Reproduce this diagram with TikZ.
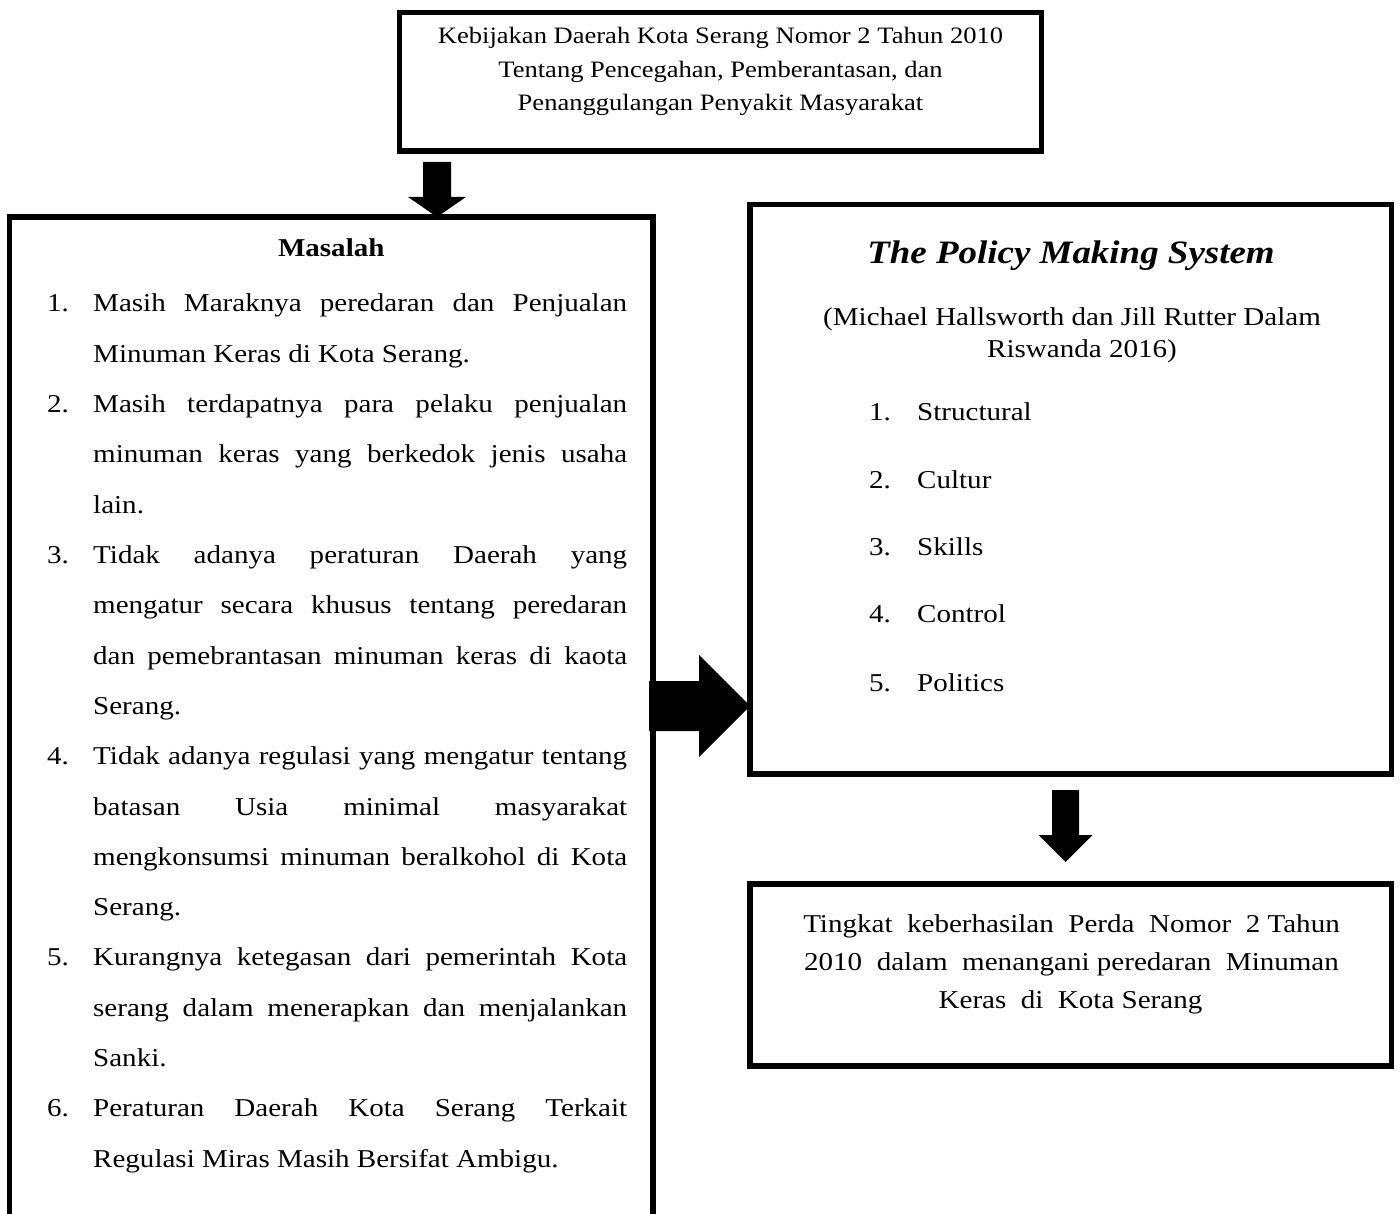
\documentclass[tikz,border=0pt]{standalone}
\usepackage{fontspec}
\setmainfont{Liberation Serif}[FakeStretch=1.13]
\usetikzlibrary{calc}
\tolerance=10000
\hyphenpenalty=10000
\hbadness=10000
\begin{document}
\begin{tikzpicture}[x=1pt,y=-1pt,
  box/.style={draw=black, line width=5.5pt, inner sep=0pt, outer sep=0pt},
  toptext/.style={inner sep=0pt, anchor=base, font=\fontsize{23.5}{33.5}\selectfont},
  body/.style={inner sep=0pt, font=\fontsize{25.7}{50.3}\selectfont},
  num/.style={body, anchor=base west},
  item/.style={body, anchor=base west, text width=534pt, align=justify},
  ctext/.style={body, anchor=base},
  rnum/.style={body, anchor=base west},
  arrowfill/.style={fill=black}]
\clip (0,0) rectangle (1400,1214);

% boxes
\node[box, minimum width=642pt, minimum height=138.5pt] (top) at (720.5,81.75) {};
\node[box, minimum width=643.5pt, minimum height=1030pt, anchor=north] (left) at (331.25,217) {};
\node[box, minimum width=641.5pt, minimum height=569.5pt] (right) at (1070.75,489.25) {};
\node[box, minimum width=641.5pt, minimum height=182pt] (bottom) at (1070.75,975) {};

% top box text
\node[toptext] (t1) at (720.5,44) {Kebijakan Daerah Kota Serang Nomor 2 Tahun 2010};
\node[toptext] (t2) at (720.5,77.5) {Tentang Pencegahan, Pemberantasan, dan};
\node[toptext] (t3) at (720.5,111) {Penanggulangan Penyakit Masyarakat};

% left box text
\node[ctext, font=\fontsize{25.7}{50.3}\selectfont\bfseries] (masalah) at (331.25,257) {Masalah};
\node[num] (n1) at (47,312) {1.};
\node[item] (m1) at (93,312) {Masih Maraknya peredaran dan Penjualan\linebreak Minuman Keras di Kota Serang.};
\node[num] (n2) at (47,412.6) {2.};
\node[item] (m2) at (93,412.6) {Masih terdapatnya para pelaku penjualan\linebreak minuman keras yang berkedok jenis usaha\linebreak lain.};
\node[num] (n3) at (47,563.5) {3.};
\node[item] (m3) at (93,563.5) {Tidak adanya peraturan Daerah yang\linebreak mengatur secara khusus tentang peredaran\linebreak dan pemebrantasan minuman keras di kaota\linebreak Serang.};
\node[num] (n4) at (47,764.7) {4.};
\node[item] (m4) at (93,764.7) {Tidak adanya regulasi yang mengatur tentang\linebreak batasan Usia minimal masyarakat\linebreak mengkonsumsi minuman beralkohol di Kota\linebreak Serang.};
\node[num] (n5) at (47,965.9) {5.};
\node[item] (m5) at (93,965.9) {Kurangnya ketegasan dari pemerintah Kota\linebreak serang dalam menerapkan dan menjalankan\linebreak Sanki.};
\node[num] (n6) at (47,1116.8) {6.};
\node[item] (m6) at (93,1116.8) {Peraturan Daerah Kota Serang Terkait\linebreak Regulasi Miras Masih Bersifat Ambigu.};

% right box text
\node[ctext, font=\fontsize{32.7}{40}\selectfont\bfseries\itshape] (title) at (1071,263.5) {The Policy Making System};
\node[ctext] (s1) at (1072,325.5) {(Michael Hallsworth dan Jill Rutter Dalam};
\node[ctext] (s2) at (1082,357.5) {Riswanda 2016)};
\node[rnum] (r1n) at (869,420) {1.};
\node[rnum] (r1) at (917,420) {Structural};
\node[rnum] (r2n) at (869,488) {2.};
\node[rnum] (r2) at (917,488) {Cultur};
\node[rnum] (r3n) at (869,555.5) {3.};
\node[rnum] (r3) at (917,555.5) {Skills};
\node[rnum] (r4n) at (869,622.5) {4.};
\node[rnum] (r4) at (917,622.5) {Control};
\node[rnum] (r5n) at (869,691) {5.};
\node[rnum] (r5) at (917,691) {Politics};

% bottom box text
\node[ctext] (b1) at (1071.5,932) {Tingkat\ \ keberhasilan\ \ Perda\ \ Nomor\ \ 2 Tahun};
\node[ctext] (b2) at (1071.5,970) {2010\ \ dalam\ \ menangani peredaran\ \ Minuman};
\node[ctext] (b3) at (1070.5,1008) {Keras\ \ di\ \ Kota Serang};

% block arrows
\coordinate (a1s) at ($(437,0 |- top.south)+(0,11)$);
\coordinate (a1e) at (437,0 |- left.north);
\fill[arrowfill] ($(a1s)+(-14,0)$) -- ($(a1s)+(14,0)$) -- ($(a1e)+(14,-20)$) -- ($(a1e)+(29,-20)$) -- (a1e) -- ($(a1e)+(-29,-20)$) -- ($(a1e)+(-14,-20)$) -- cycle;

\coordinate (a2s) at ($(left.east |- 0,706)+(-4,0)$);
\coordinate (a2e) at (right.west |- 0,706);
\fill[arrowfill] ($(a2s)+(0,-25)$) -- ($(a2e)+(-51,-25)$) -- ($(a2e)+(-51,-51)$) -- (a2e) -- ($(a2e)+(-51,51)$) -- ($(a2e)+(-51,25)$) -- ($(a2s)+(0,25)$) -- cycle;

\coordinate (a3s) at ($(1065.5,0 |- right.south)+(0,16)$);
\coordinate (a3e) at ($(1065.5,0 |- bottom.north)+(0,-22)$);
\fill[arrowfill] ($(a3s)+(-13.5,0)$) -- ($(a3s)+(13.5,0)$) -- ($(a3e)+(13.5,-27)$) -- ($(a3e)+(27,-27)$) -- (a3e) -- ($(a3e)+(-27,-27)$) -- ($(a3e)+(-13.5,-27)$) -- cycle;
\end{tikzpicture}
\end{document}
